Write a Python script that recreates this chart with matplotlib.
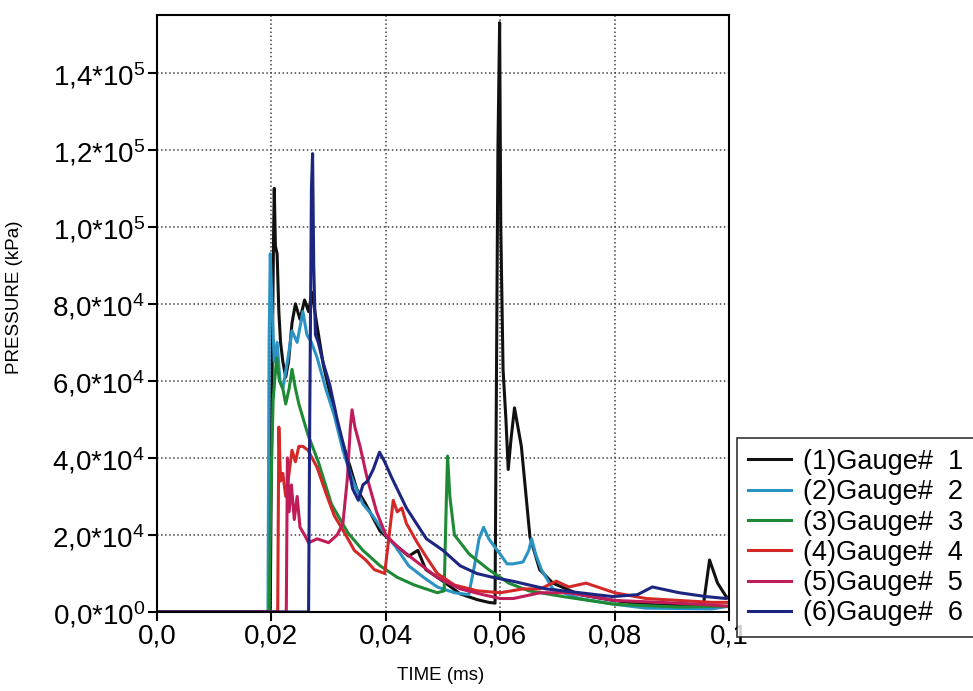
import numpy as np
import matplotlib
matplotlib.use('Agg')
import matplotlib.pyplot as plt

plt.rcParams['font.family'] = ['Liberation Sans', 'DejaVu Sans']
plt.rcParams['mathtext.default'] = 'regular'

# gauge traces: time (ms), pressure (kPa)
t1 = [0, 0.0198, 0.0201, 0.0204, 0.0205, 0.0207, 0.0210, 0.0213, 0.0216, 0.0220, 0.0225,
      0.0230, 0.0236, 0.0242, 0.0250, 0.0258, 0.0265, 0.0271, 0.0278, 0.0291, 0.0305, 0.0320,
      0.0335, 0.0349, 0.0365, 0.0390, 0.0420, 0.0440, 0.0456, 0.0470, 0.0500, 0.0530, 0.0560,
      0.0580, 0.0591, 0.0593, 0.0596, 0.0599, 0.0601, 0.0605, 0.0610, 0.0614, 0.0619, 0.0625,
      0.0637, 0.0652, 0.0669, 0.0692, 0.0739, 0.0797, 0.0855, 0.0940, 0.0955, 0.0966, 0.0980,
      0.0995, 0.1]
p1 = [0, 0, 6e4, 1.0e5, 1.1e5, 9.5e4, 9.3e4, 7.8e4, 7.0e4, 6.5e4, 6.1e4,
      6.5e4, 7.5e4, 8.0e4, 7.6e4, 8.1e4, 7.8e4, 8.3e4, 7.6e4, 6.4e4, 5.5e4, 4.6e4,
      3.9e4, 3.2e4, 2.8e4, 2.1e4, 1.7e4, 1.45e4, 1.6e4, 1.1e4, 8e3, 4.7e3, 3.2e3,
      2.5e3, 2.3e3, 5e4, 1.2e5, 1.53e5, 1.0e5, 6.3e4, 5.0e4, 3.7e4, 4.5e4, 5.3e4,
      4.3e4, 1.95e4, 1.1e4, 7.5e3, 4.5e3, 3e3, 2e3, 1.5e3, 1.6e3, 1.35e4, 7.5e3,
      4e3, 3.5e3]

t2 = [0, 0.0194, 0.0196, 0.0198, 0.0201, 0.0205, 0.0210, 0.0215, 0.0220, 0.0228, 0.0236,
      0.0245, 0.0255, 0.0262, 0.0270, 0.0280, 0.0295, 0.0310, 0.0325, 0.0340, 0.0360, 0.0377,
      0.0400, 0.0417, 0.0440, 0.0466, 0.0490, 0.0520, 0.0545, 0.0555, 0.0563, 0.0571, 0.0580,
      0.0590, 0.0600, 0.0612, 0.0623, 0.0640, 0.0650, 0.0655, 0.0662, 0.0672, 0.0692, 0.0739,
      0.0800, 0.0855, 0.0970, 0.1]
p2 = [0, 0, 7e4, 9.3e4, 8.0e4, 6.5e4, 7.0e4, 6.0e4, 5.8e4, 6.5e4, 7.3e4,
      7.0e4, 7.8e4, 7.2e4, 7.0e4, 6.6e4, 5.8e4, 5.1e4, 4.2e4, 3.5e4, 2.8e4, 2.5e4,
      2.0e4, 1.7e4, 1.2e4, 9e3, 6.5e3, 5e3, 4.5e3, 1.2e4, 1.9e4, 2.2e4, 1.9e4,
      1.7e4, 1.5e4, 1.25e4, 1.25e4, 1.3e4, 1.6e4, 1.9e4, 1.5e4, 1.1e4, 6e3, 3.5e3,
      2e3, 1e3, 8e2, 1.5e3]

t3 = [0, 0.0196, 0.0199, 0.0203, 0.0209, 0.0214, 0.0220, 0.0225, 0.0231, 0.0236, 0.0242,
      0.0248, 0.0256, 0.0264, 0.0282, 0.0305, 0.0334, 0.0360, 0.0390, 0.0420, 0.0450, 0.0490,
      0.0502, 0.0506, 0.0508, 0.0512, 0.0520, 0.0546, 0.0580, 0.0615, 0.0650, 0.0710, 0.0800,
      0.0910, 0.1]
p3 = [0, 0, 3e4, 5.5e4, 6.6e4, 6.0e4, 5.8e4, 5.4e4, 5.8e4, 6.3e4, 5.8e4,
      5.4e4, 5.0e4, 4.6e4, 3.9e4, 2.8e4, 2.05e4, 1.6e4, 1.2e4, 9e3, 7e3, 5e3,
      5.5e3, 3e4, 4.05e4, 3e4, 2e4, 1.5e4, 1.1e4, 7.5e3, 5.5e3, 4e3, 2e3,
      1.3e3, 1.5e3]

t4 = [0, 0.0211, 0.0213, 0.0216, 0.0220, 0.0225, 0.0230, 0.0236, 0.0242, 0.0248, 0.0255,
      0.0264, 0.0280, 0.0295, 0.0310, 0.0330, 0.0345, 0.0365, 0.0380, 0.0398, 0.0402, 0.0413,
      0.0420, 0.0428, 0.0436, 0.0455, 0.0472, 0.0490, 0.0520, 0.0560, 0.0600, 0.0640, 0.0670,
      0.0698, 0.0720, 0.0750, 0.0800, 0.0855, 0.0970, 0.1]
p4 = [0, 0, 4.8e4, 3.4e4, 3.6e4, 3.0e4, 3.5e4, 4.2e4, 3.9e4, 4.3e4, 4.3e4,
      4.2e4, 3.75e4, 3.1e4, 2.5e4, 2.0e4, 1.6e4, 1.35e4, 1.1e4, 1.0e4, 1.5e4, 2.9e4,
      2.6e4, 2.7e4, 2.3e4, 1.8e4, 1.4e4, 1.0e4, 7e3, 5.5e3, 5e3, 6e3, 6e3,
      8e3, 6.5e3, 7.5e3, 5e3, 3.5e3, 2.5e3, 2.5e3]

t5 = [0, 0.0226, 0.0228, 0.0231, 0.0235, 0.0240, 0.0245, 0.0250, 0.0258, 0.0265, 0.0280,
      0.0300, 0.0315, 0.0325, 0.0333, 0.0338, 0.0341, 0.0346, 0.0355, 0.0367, 0.0384, 0.0400,
      0.0420, 0.0450, 0.0490, 0.0530, 0.0570, 0.0600, 0.0623, 0.0670, 0.0720, 0.0760, 0.0800,
      0.0880, 0.0950, 0.1]
p5 = [0, 0, 4.0e4, 2.6e4, 3.3e4, 2.4e4, 3.0e4, 2.2e4, 2.0e4, 1.8e4, 1.9e4,
      1.8e4, 2.0e4, 2.3e4, 3.5e4, 4.8e4, 5.25e4, 4.8e4, 4.3e4, 3.5e4, 2.6e4, 2.0e4,
      1.7e4, 1.35e4, 9e3, 6e3, 4.5e3, 3.5e3, 3.5e3, 5e3, 5e3, 4e3, 3e3,
      2.5e3, 2e3, 1.5e3]

t6 = [0, 0.0265, 0.0267, 0.0270, 0.0272, 0.0274, 0.0277, 0.0282, 0.0290, 0.0302, 0.0315,
      0.0330, 0.0342, 0.0352, 0.0360, 0.0368, 0.0378, 0.0389, 0.0398, 0.0410, 0.0436, 0.0471,
      0.0500, 0.0530, 0.0559, 0.0587, 0.0622, 0.0680, 0.0739, 0.0797, 0.0840, 0.0866, 0.0913,
      0.0960, 0.0995, 0.1]
p6 = [0, 0, 5e4, 1.1e5, 1.19e5, 9.0e4, 7.2e4, 7.0e4, 6.5e4, 5.9e4, 5.0e4,
      4.1e4, 3.2e4, 2.9e4, 3.3e4, 3.4e4, 3.7e4, 4.15e4, 3.9e4, 3.5e4, 2.7e4, 1.9e4,
      1.6e4, 1.2e4, 1.0e4, 9e3, 8e3, 6e3, 5e3, 4e3, 4.5e3, 6.5e3, 5e3,
      4e3, 3.5e3, 4e3]

labels = ['(1)Gauge#  1', '(2)Gauge#  2', '(3)Gauge#  3',
          '(4)Gauge#  4', '(5)Gauge#  5', '(6)Gauge#  6']
colors = ['#111111', '#2a93c4', '#1f8a35', '#d42828', '#c01c5a', '#1c2580']

xticks = [0, 0.02, 0.04, 0.06, 0.08, 0.1]
xticklabels = ['0,0', '0,02', '0,04', '0,06', '0,08', '0,1']
yticks = [0, 2e4, 4e4, 6e4, 8e4, 1e5, 1.2e5, 1.4e5]
yticklabels = [r'0,0*10$^{0}$', r'2,0*10$^{4}$', r'4,0*10$^{4}$', r'6,0*10$^{4}$',
               r'8,0*10$^{4}$', r'1,0*10$^{5}$', r'1,2*10$^{5}$', r'1,4*10$^{5}$']

fig = plt.figure(figsize=(9.73, 6.91), dpi=100)
ax = fig.add_axes([157/973, 1 - 612/691, 572/973, 597/691])

series = [(t1, p1), (t2, p2), (t3, p3), (t4, p4), (t5, p5), (t6, p6)]
for (t, p), c, lab in zip(series, colors, labels):
    ax.plot(t, p, color=c, lw=2.2, label=lab)

ax.set_xlim(0, 0.1)
ax.set_ylim(0, 1.55e5)
ax.set_xticks(xticks)
ax.set_xticklabels(xticklabels, fontsize=20)
ax.set_yticks(yticks)
ax.set_yticklabels(yticklabels, fontsize=20)
ax.tick_params(direction='out', length=6.5, width=1.5, pad=2)
ax.grid(True, ls=':', color='#444444', lw=1.1)
for s in ax.spines.values():
    s.set_linewidth(1.5)

ax.set_xlabel('TIME (ms)', fontsize=13.5)
ax.xaxis.set_label_coords(0.495, -0.092)
ax.set_ylabel('PRESSURE (kPa)', fontsize=13.5)
ax.yaxis.set_label_coords(-0.235, 0.528)

leg = fig.legend(loc='upper left', bbox_to_anchor=(737/973, 1 - 438/691),
                 fontsize=19.5, frameon=True, fancybox=False, edgecolor='black',
                 handlelength=1.6, labelspacing=0.16, borderpad=0.4,
                 handletextpad=0.45, borderaxespad=0)
leg.get_frame().set_linewidth(1.2)

fig.savefig('out.png', dpi=100)
